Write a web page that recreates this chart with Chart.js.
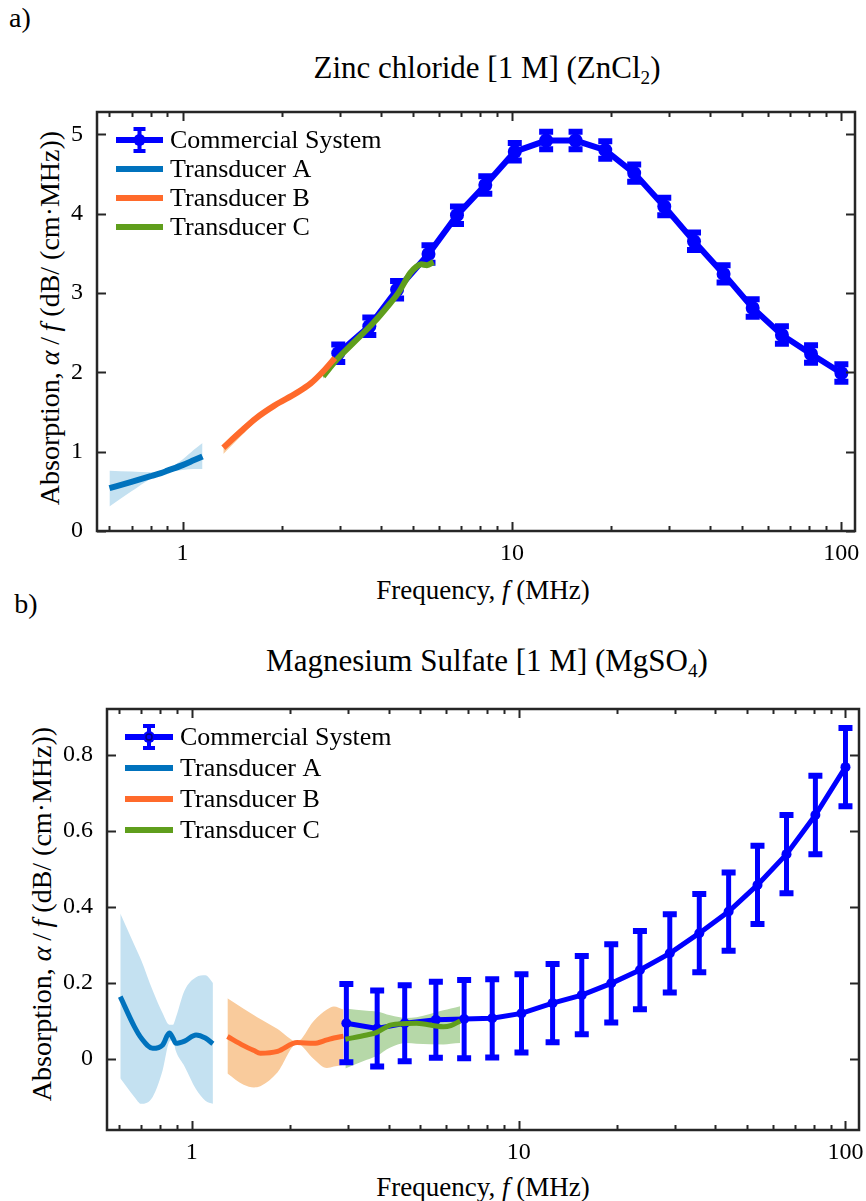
<!DOCTYPE html>
<html>
<head>
<meta charset="utf-8">
<script src="https://cdn.jsdelivr.net/npm/chart.js@4.4.1/dist/chart.umd.min.js"></script>
<style>
  body { margin: 0; background: #fff; width: 866px; height: 1201px; position: relative; overflow: hidden;
         font-family: "Times New Roman", "Liberation Serif", "DejaVu Serif", serif; color: #000; }
  .lbl { position: absolute; white-space: nowrap; transform: translate(-50%, -50%); }
  .rot { transform: translate(-50%, -50%) rotate(-90deg); }
  sub { font-size: 0.62em; vertical-align: -0.3em; line-height: 0; }
  canvas { position: absolute; left: 0; }
</style>
</head>
<body>

<div class="lbl" style="left:20px;top:18px;font-size:28px">a)</div>
<div class="lbl" style="left:487px;top:68px;font-size:31px">Zinc chloride [1 M] (ZnCl<sub>2</sub>)</div>
<div class="lbl rot" style="left:50px;top:318px;font-size:28px">Absorption, <i>α</i>&thinsp;/&thinsp;<i>f</i> (dB/ (cm·MHz))</div>
<div class="lbl" style="left:483px;top:590px;font-size:27px">Frequency, <i>f</i> (MHz)</div>
<canvas id="chartA" width="866" height="480" style="top:100px"></canvas>

<div class="lbl" style="left:26px;top:604px;font-size:28px">b)</div>
<div class="lbl" style="left:487px;top:661px;font-size:31px">Magnesium Sulfate [1 M] (MgSO<sub>4</sub>)</div>
<div class="lbl rot" style="left:42px;top:914px;font-size:28px">Absorption, <i>α</i>&thinsp;/&thinsp;<i>f</i> (dB/ (cm·MHz))</div>
<div class="lbl" style="left:483px;top:1187px;font-size:27px">Frequency, <i>f</i> (MHz)</div>
<canvas id="chartB" width="866" height="511" style="top:690px"></canvas>

<script>
const SERIF = '"Times New Roman", "Liberation Serif", "DejaVu Serif", serif';

// ---- axis ticks (shared log frequency axis) ----
const xTickValues = [0.6, 0.7, 0.8, 0.9, 1, 2, 3, 4, 5, 6, 7, 8, 9, 10, 20, 30, 40, 50, 60, 70, 80, 90, 100];
const xMajorTicks = [1, 10, 100];
const yTicksA = [0, 1, 2, 3, 4, 5];
const yTicksB = [0, 0.2, 0.4, 0.6, 0.8];

// ---- commercial system (same frequencies in both panels) ----
const commercialFreq = [2.97, 3.69, 4.48, 5.58, 6.81, 8.3, 10.2, 12.7, 15.6, 19.2, 23.5, 29.0, 35.7, 43.9, 53.8, 66.0, 80.9, 100];

// panel a: zinc chloride
const commercialA = [2.24, 2.58, 3.04, 3.49, 3.98, 4.36, 4.78, 4.92, 4.92, 4.80, 4.51, 4.09, 3.65, 3.24, 2.81, 2.47, 2.23, 1.99];
const commercialErrA = [0.11, 0.11, 0.11, 0.11, 0.11, 0.11, 0.11, 0.11, 0.11, 0.11, 0.11, 0.11, 0.11, 0.11, 0.11, 0.11, 0.11, 0.11];

const freqAA = [0.60, 0.70, 0.80, 0.86, 0.90, 1.00, 1.08, 1.15];
const lineAA = [0.54, 0.62, 0.69, 0.73, 0.76, 0.83, 0.89, 0.94];
const lowAA  = [0.31, 0.50, 0.66, 0.72, 0.74, 0.77, 0.78, 0.78];
const highAA = [0.76, 0.75, 0.74, 0.75, 0.78, 0.90, 1.02, 1.11];

const freqAB = [1.33, 1.50, 1.67, 1.90, 2.22, 2.45, 2.67, 2.90];
const lineAB = [1.05, 1.25, 1.42, 1.58, 1.74, 1.86, 2.01, 2.18];
const lowAB  = [0.97, 1.19, 1.38, 1.55, 1.71, 1.84, 1.99, 2.16];
const highAB = [1.10, 1.30, 1.46, 1.61, 1.77, 1.88, 2.03, 2.20];

const freqAC = [2.67, 2.94, 3.30, 3.79, 4.27, 4.52, 4.91, 5.13, 5.30, 5.52, 5.78];
const lineAC = [1.95, 2.16, 2.37, 2.62, 2.87, 3.00, 3.25, 3.33, 3.36, 3.35, 3.39];
const lowAC  = [1.92, 2.13, 2.34, 2.59, 2.84, 2.97, 3.22, 3.30, 3.33, 3.32, 3.36];
const highAC = [1.98, 2.19, 2.40, 2.65, 2.90, 3.03, 3.28, 3.36, 3.39, 3.38, 3.42];

// panel b: magnesium sulfate
const commercialB = [0.094, 0.080, 0.094, 0.103, 0.105, 0.107, 0.120, 0.147, 0.168, 0.199, 0.234, 0.278, 0.331, 0.388, 0.458, 0.539, 0.642, 0.768];
const commercialErrB = [0.103, 0.100, 0.100, 0.100, 0.103, 0.103, 0.103, 0.103, 0.103, 0.103, 0.103, 0.103, 0.103, 0.103, 0.103, 0.103, 0.103, 0.103];

const freqBA = [0.604, 0.667, 0.70, 0.759, 0.814, 0.853, 0.875, 0.894, 0.95, 1.03, 1.10, 1.16];
const lineBA = [0.164, 0.085, 0.055, 0.028, 0.037, 0.068, 0.055, 0.041, 0.047, 0.063, 0.055, 0.040];
const lowBA  = [-0.051, -0.100, -0.118, -0.100, -0.030, 0.045, 0.050, 0.020, -0.020, -0.080, -0.110, -0.118];
const highBA = [0.383, 0.300, 0.260, 0.180, 0.120, 0.090, 0.090, 0.110, 0.180, 0.215, 0.220, 0.200];

const freqBB = [1.285, 1.44, 1.55, 1.62, 1.83, 2.10, 2.36, 2.59, 2.72, 2.91];
const lineBB = [0.059, 0.035, 0.022, 0.015, 0.020, 0.043, 0.041, 0.050, 0.055, 0.060];
const lowBB  = [-0.038, -0.068, -0.075, -0.072, -0.035, 0.040, 0.000, -0.024, -0.020, -0.015];
const highBB = [0.160, 0.132, 0.115, 0.105, 0.079, 0.046, 0.100, 0.130, 0.138, 0.130];

const freqBC = [2.95, 3.43, 3.68, 4.05, 4.54, 4.87, 5.88, 6.20, 6.62];
const lineBC = [0.052, 0.063, 0.070, 0.089, 0.093, 0.094, 0.085, 0.088, 0.100];
const lowBC  = [-0.025, -0.002, 0.008, 0.030, 0.042, 0.040, 0.038, 0.040, 0.042];
const highBC = [0.133, 0.127, 0.125, 0.115, 0.108, 0.110, 0.128, 0.133, 0.139];

const COLORS = {
  commercial: '#0000ff',
  A: '#0072bd', B: '#ff6a2b', C: '#5f9e1c',
  bandA: '#c4e1f1', bandB: '#f9cb9c', bandC: '#b6d8a8',
  frame: '#262626'
};

const pts = (xs, ys) => xs.map((x, i) => ({ x: x, y: ys[i] }));

function band(xs, lo, hi, color) {
  return [
    { data: pts(xs, lo), borderWidth: 0, pointRadius: 0, fill: false, order: 10, cubicInterpolationMode: 'monotone' },
    { data: pts(xs, hi), borderWidth: 0, pointRadius: 0, fill: '-1', backgroundColor: color, order: 10, cubicInterpolationMode: 'monotone' }
  ];
}

function curve(label, xs, ys, color, width) {
  return { label: label, data: pts(xs, ys), borderColor: color, borderWidth: width, pointRadius: 0,
           fill: false, order: 1, cubicInterpolationMode: 'monotone', borderCapStyle: 'butt' };
}

// error bars drawn right after the commercial dataset
const errorBars = {
  id: 'errorBars',
  afterDatasetDraw(chart, args) {
    const ds = chart.data.datasets[args.index];
    if (!ds.errors) return;
    const { ctx, scales: { x, y } } = chart;
    ctx.save();
    ctx.strokeStyle = ds.borderColor;
    ds.data.forEach((p, i) => {
      const px = x.getPixelForValue(p.x);
      const top = y.getPixelForValue(p.y + ds.errors[i]);
      const bot = y.getPixelForValue(p.y - ds.errors[i]);
      ctx.lineWidth = ds.errWidth;
      ctx.beginPath();
      ctx.moveTo(px, top); ctx.lineTo(px, bot);
      ctx.stroke();
      ctx.lineWidth = ds.errWidth + 1;
      ctx.beginPath();
      ctx.moveTo(px - ds.capHalf, top); ctx.lineTo(px + ds.capHalf, top);
      ctx.moveTo(px - ds.capHalf, bot); ctx.lineTo(px + ds.capHalf, bot);
      ctx.stroke();
    });
    ctx.restore();
  }
};

// box with inward ticks on all sides, plus an inside legend
const frameAndLegend = {
  id: 'frameAndLegend',
  afterDatasetsDraw(chart) {
    const { ctx, chartArea: a, scales: { x, y } } = chart;
    ctx.save();
    ctx.strokeStyle = COLORS.frame;
    ctx.lineWidth = 2;
    ctx.beginPath();
    x.ticks.forEach(t => {
      const px = Math.round(x.getPixelForValue(t.value)) + 0.5;
      const len = xMajorTicks.includes(t.value) ? 9 : 5;
      ctx.moveTo(px, a.bottom); ctx.lineTo(px, a.bottom - len);
      ctx.moveTo(px, a.top); ctx.lineTo(px, a.top + len);
    });
    y.ticks.forEach(t => {
      const py = Math.round(y.getPixelForValue(t.value)) + 0.5;
      ctx.moveTo(a.left, py); ctx.lineTo(a.left + 9, py);
      ctx.moveTo(a.right, py); ctx.lineTo(a.right - 9, py);
    });
    ctx.stroke();
    ctx.lineWidth = 2.5;
    ctx.strokeRect(a.left, a.top, a.right - a.left, a.bottom - a.top);
    ctx.restore();
  },
  afterDraw(chart, args, opts) {
    const { ctx } = chart;
    const items = chart.data.datasets.filter(d => d.label);
    ctx.save();
    ctx.font = opts.font;
    ctx.textBaseline = 'middle';
    ctx.fillStyle = '#000';
    items.forEach((d, i) => {
      const cy = opts.y + i * opts.dy;
      ctx.strokeStyle = d.borderColor;
      ctx.lineWidth = opts.lineWidth;
      ctx.beginPath();
      ctx.moveTo(opts.x, cy); ctx.lineTo(opts.x + opts.len, cy);
      ctx.stroke();
      if (d.errors) {
        const mx = opts.x + opts.len / 2;
        ctx.lineWidth = 4;
        ctx.beginPath();
        ctx.moveTo(mx, cy - 11); ctx.lineTo(mx, cy + 11);
        ctx.moveTo(mx - 6, cy - 11); ctx.lineTo(mx + 6, cy - 11);
        ctx.moveTo(mx - 6, cy + 11); ctx.lineTo(mx + 6, cy + 11);
        ctx.stroke();
        ctx.fillStyle = d.borderColor;
        ctx.beginPath(); ctx.arc(mx, cy, 6, 0, Math.PI * 2); ctx.fill();
        if (opts.ringMarker) {
          ctx.strokeStyle = '#000080';
          ctx.lineWidth = 1.5;
          ctx.beginPath(); ctx.arc(mx, cy, 3, 0, Math.PI * 2); ctx.stroke();
        }
        ctx.fillStyle = '#000';
      }
      ctx.fillText(d.label, opts.x + opts.len + 7, cy + 1);
    });
    ctx.restore();
  }
};

function makeChart(id, cfg) {
  const tickFont = { family: SERIF, size: 24 };
  return new Chart(document.getElementById(id), {
    type: 'line',
    data: { datasets: cfg.datasets },
    options: {
      responsive: false,
      animation: false,
      layout: { padding: cfg.padding },
      plugins: {
        legend: { display: false },
        tooltip: { enabled: false },
        frameAndLegend: cfg.legend
      },
      scales: {
        x: {
          type: 'logarithmic', min: 0.55, max: 110,
          grid: { display: false, drawTicks: false }, border: { display: false },
          afterBuildTicks: s => { s.ticks = xTickValues.map(v => ({ value: v })); },
          afterFit: s => { s.height = cfg.xHeight; s.paddingLeft = 0; s.paddingRight = 0; },
          ticks: { autoSkip: false, maxRotation: 0, minRotation: 0, padding: 8, color: '#000', font: tickFont,
                   callback: v => xMajorTicks.includes(v) ? String(v) : '' }
        },
        y: {
          type: 'linear', min: cfg.yMin, max: cfg.yMax,
          grid: { display: false, drawTicks: false }, border: { display: false },
          afterBuildTicks: s => { s.ticks = cfg.yTicks.map(v => ({ value: v })); },
          afterFit: s => { s.width = cfg.yWidth; s.paddingTop = 0; s.paddingBottom = 0; },
          ticks: { padding: 14, color: '#000', font: tickFont, callback: v => String(v) }
        }
      }
    },
    plugins: [errorBars, frameAndLegend]
  });
}

makeChart('chartA', {
  padding: { left: 0, top: 12, right: 11, bottom: 0 },
  xHeight: 49, yWidth: 97, yMin: 0, yMax: 5.28, yTicks: yTicksA,
  legend: { x: 116, y: 40, dy: 29, len: 47, lineWidth: 6, font: '26px ' + SERIF },
  datasets: [
    ...band(freqAA, lowAA, highAA, COLORS.bandA),
    ...band(freqAB, lowAB, highAB, COLORS.bandB),
    ...band(freqAC, lowAC, highAC, COLORS.bandC),
    { label: 'Commercial System', data: pts(commercialFreq, commercialA), errors: commercialErrA,
      errWidth: 5, capHalf: 7, borderColor: COLORS.commercial, backgroundColor: COLORS.commercial,
      borderWidth: 6, pointRadius: 7, pointBorderWidth: 0, tension: 0, fill: false, order: 5 },
    curve('Transducer A', freqAA, lineAA, COLORS.A, 6),
    curve('Transducer B', freqAB, lineAB, COLORS.B, 6),
    curve('Transducer C', freqAC, lineAC, COLORS.C, 6)
  ]
});

makeChart('chartB', {
  padding: { left: 0, top: 19, right: 7, bottom: 0 },
  xHeight: 71, yWidth: 107, yMin: -0.187, yMax: 0.921, yTicks: yTicksB,
  legend: { x: 125, y: 47, dy: 31, len: 48, lineWidth: 6, font: '26px ' + SERIF, ringMarker: true },
  datasets: [
    ...band(freqBA, lowBA, highBA, COLORS.bandA),
    ...band(freqBB, lowBB, highBB, COLORS.bandB),
    ...band(freqBC, lowBC, highBC, COLORS.bandC),
    { label: 'Commercial System', data: pts(commercialFreq, commercialB), errors: commercialErrB,
      errWidth: 5, capHalf: 7, borderColor: COLORS.commercial, backgroundColor: COLORS.commercial,
      borderWidth: 5, pointRadius: 5, pointBorderWidth: 0, tension: 0, fill: false, order: 5 },
    curve('Transducer A', freqBA, lineBA, COLORS.A, 5),
    curve('Transducer B', freqBB, lineBB, COLORS.B, 5),
    curve('Transducer C', freqBC, lineBC, COLORS.C, 5)
  ]
});
</script>
</body>
</html>
